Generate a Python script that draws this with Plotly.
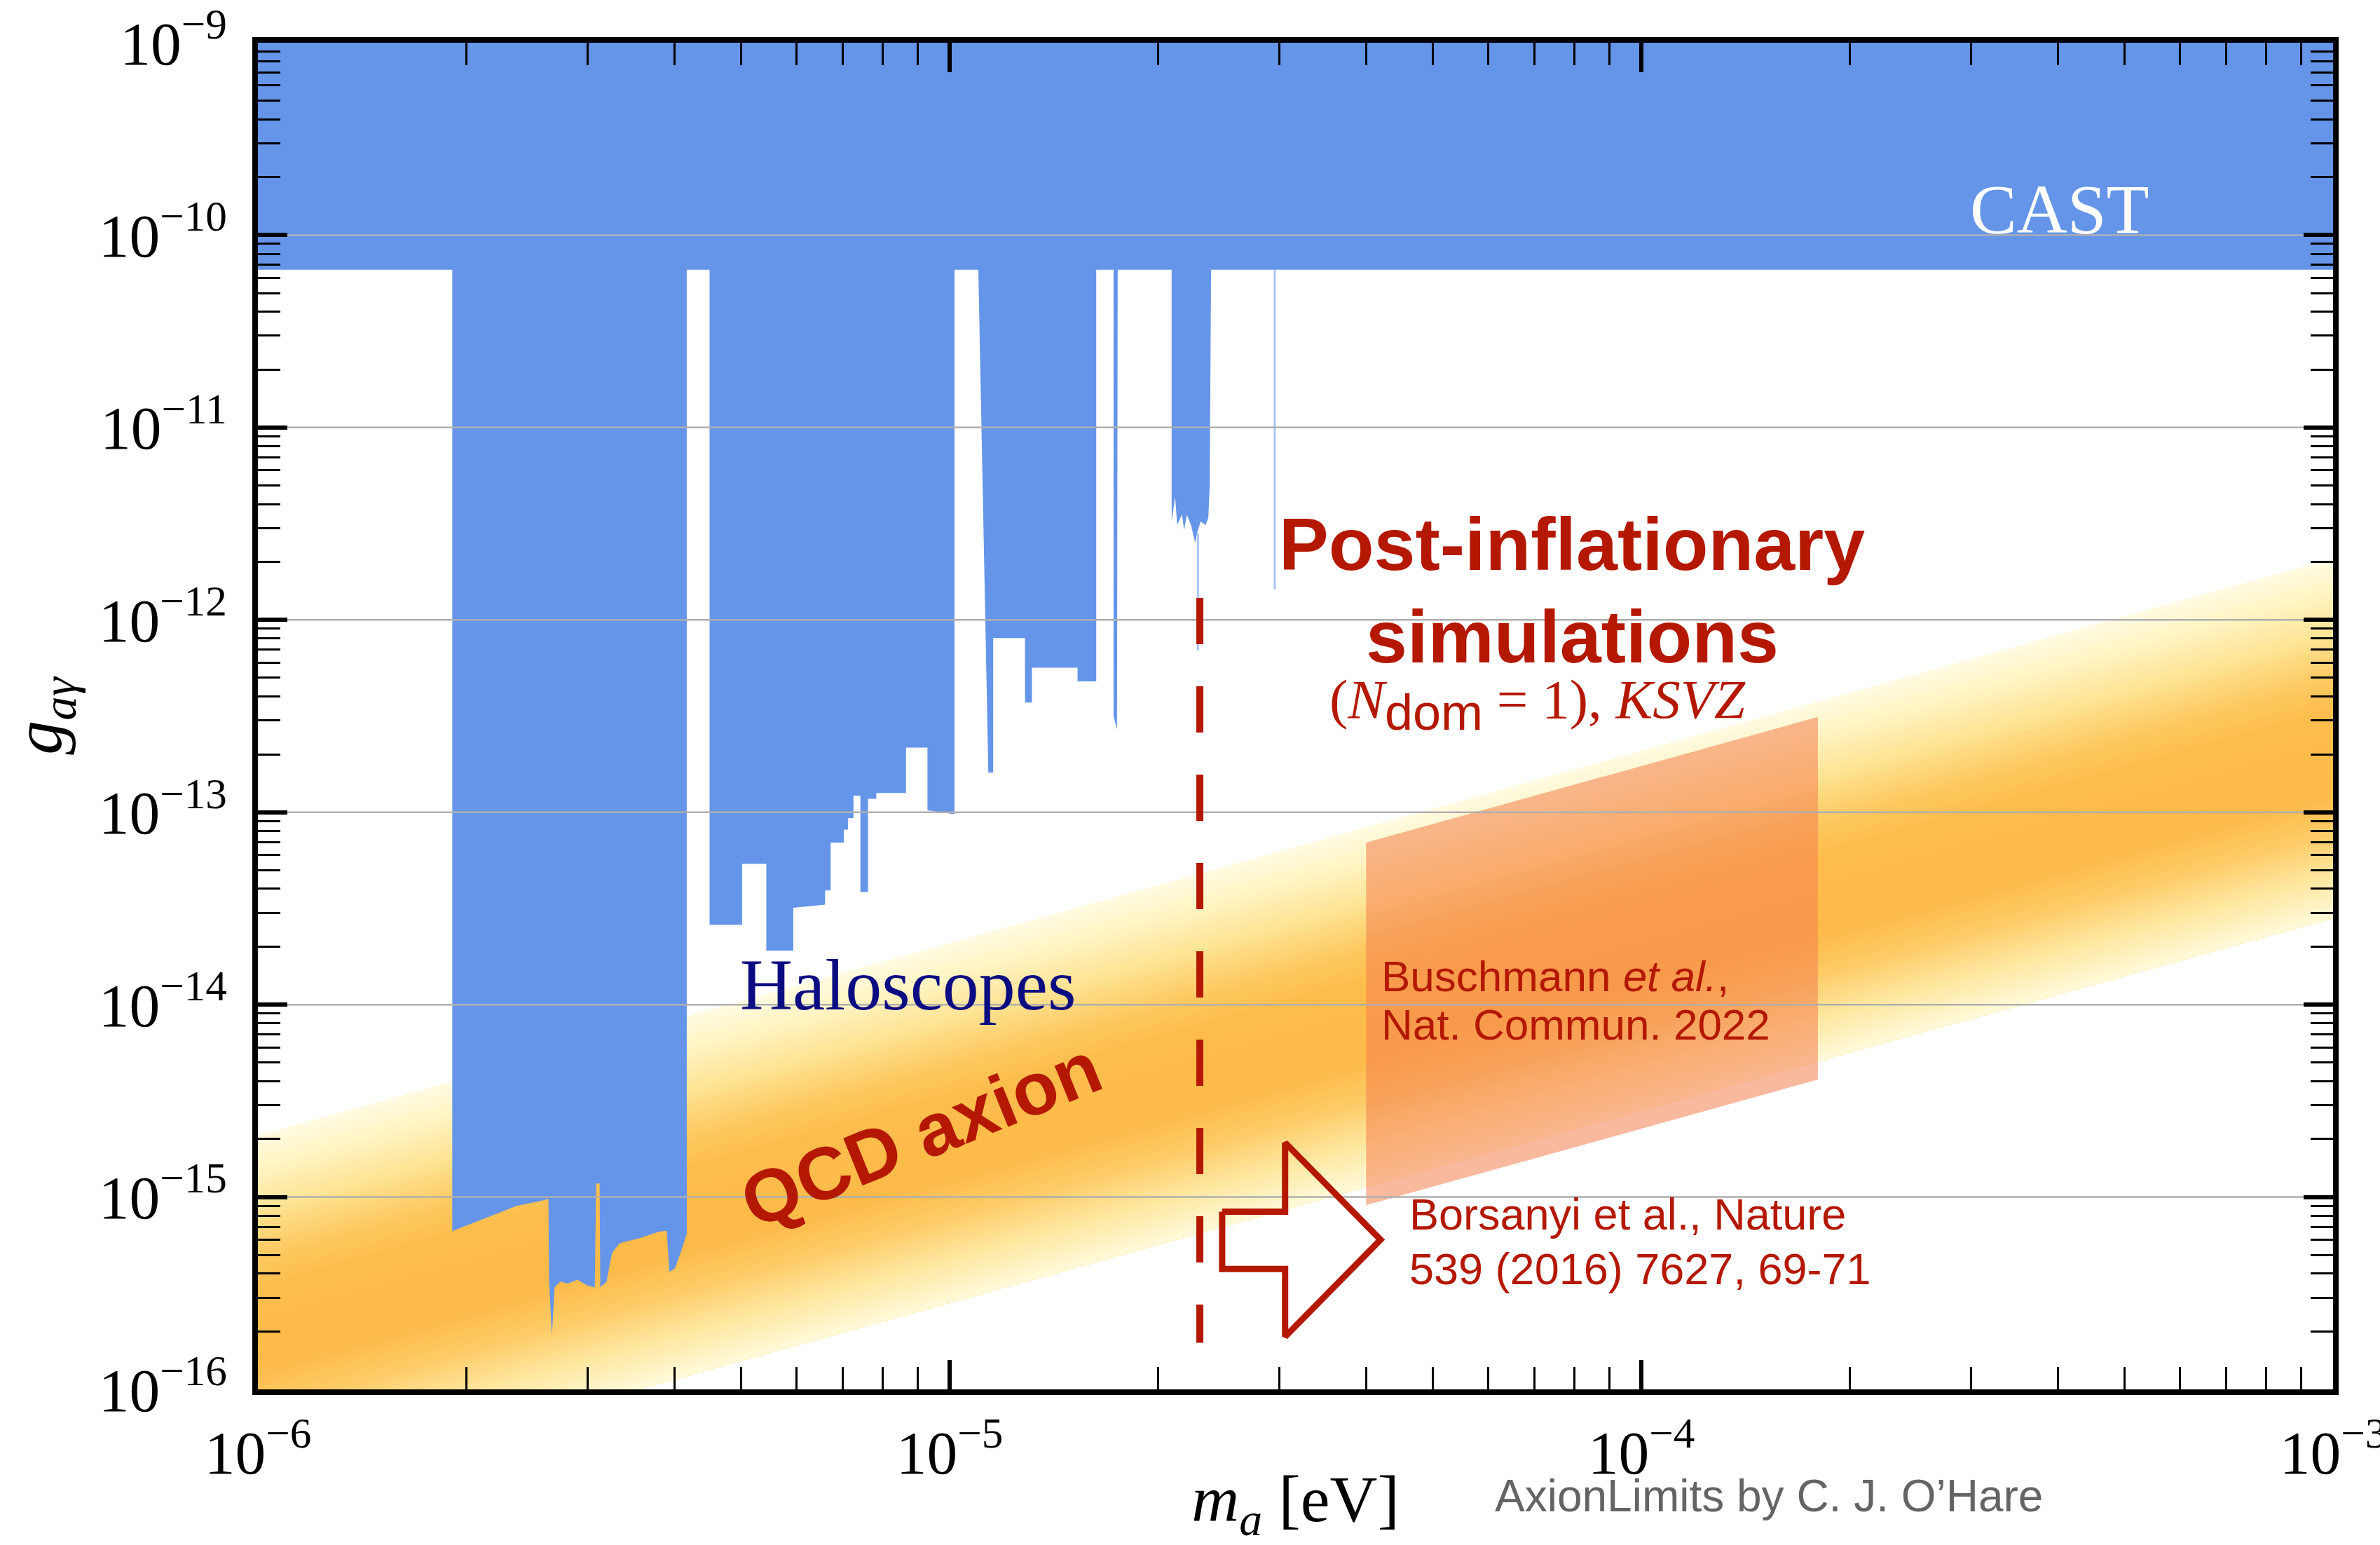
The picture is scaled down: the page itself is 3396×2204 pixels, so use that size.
import numpy as np
import plotly.graph_objects as go

# ---------------- data ----------------
# axis limits
mass_range = [1e-6, 1e-3]       # eV
coupling_range = [1e-16, 1e-9]  # GeV^-1

# CAST helioscope limit (log10 g)
cast_log_g = -10.18

# Haloscope exclusion boundary, traced left -> right (log10 m, log10 g)
halo_log_m = [
    -6.000, -5.719, -5.719, -5.690, -5.662, -5.626, -5.591, -5.580,
    -5.579, -5.575, -5.571, -5.563, -5.552, -5.538, -5.524, -5.513,
    -5.511, -5.506, -5.505, -5.496, -5.488, -5.477, -5.449, -5.420,
    -5.409, -5.405, -5.397, -5.388, -5.380, -5.380,
    -5.347, -5.347, -5.300, -5.300, -5.265, -5.265, -5.226, -5.226,
    -5.180, -5.180, -5.172, -5.172, -5.153, -5.153, -5.147, -5.147,
    -5.139, -5.139, -5.129, -5.129, -5.118, -5.118, -5.106, -5.106,
    -5.063, -5.063, -5.032, -5.032, -4.993, -4.993,
    -4.9585, -4.944, -4.937, -4.937, -4.891, -4.891, -4.881, -4.881,
    -4.815, -4.815, -4.788, -4.788,
    -4.763, -4.763, -4.758, -4.757,
    -4.679, -4.679, -4.674, -4.671, -4.664, -4.661, -4.657, -4.651,
    -4.645, -4.642, -4.637, -4.630, -4.626, -4.624, -4.622,
    -3.000, -3.000, -6.000,
]
halo_log_g = [
    -10.18, -10.18, -15.177, -15.136, -15.095, -15.046, -15.021, -15.010,
    -15.44, -15.72, -15.47, -15.44, -15.45, -15.43, -15.46, -15.47,
    -14.93, -14.93, -15.47, -15.44, -15.29, -15.24, -15.215, -15.18,
    -15.176, -15.39, -15.37, -15.28, -15.19, -10.18,
    -10.18, -13.585, -13.585, -13.268, -13.268, -13.720, -13.720, -13.497,
    -13.480, -13.406, -13.406, -13.158, -13.158, -13.090, -13.090, -13.030,
    -13.030, -12.914, -12.914, -13.415, -13.415, -12.930, -12.930, -12.900,
    -12.900, -12.664, -12.664, -12.990, -13.010, -10.18,
    -10.18, -12.794, -12.794, -12.095, -12.095, -12.430, -12.430, -12.249,
    -12.249, -12.320, -12.320, -10.18,
    -10.18, -12.50, -12.57, -10.18,
    -10.18, -11.489, -11.359, -11.507, -11.452, -11.535, -11.452, -11.507,
    -11.600, -11.544, -11.489, -11.507, -11.470, -11.303, -10.18,
    -10.18, -9.000, -9.000,
]

# faint single-frequency haloscope lines: (log10 m, log10 g_top, log10 g_bottom)
halo_thin_lines = [(-4.641, -11.55, -12.16), (-4.530, -10.18, -11.84)]

# QCD axion band, g = 10**c * m  (upper and lower edge coefficients)
qcd_band_log_coef = [-8.68, -10.55]
# colour profile across the band, from upper to lower edge
band_color_stops = [
    (0.00, (255, 251, 226)),
    (0.10, (255, 243, 192)),
    (0.22, (254, 226, 144)),
    (0.33, (253, 202, 98)),
    (0.43, (253, 189, 76)),
    (0.64, (253, 186, 72)),
    (0.76, (253, 203, 102)),
    (0.88, (254, 231, 160)),
    (1.00, (255, 250, 218)),
]

# Buschmann et al. 2022 post-inflationary prediction
busch_mass = [4.0e-5, 1.8e-4]
busch_log_coef = [-8.76, -10.645]

# dashed line: lower end of post-inflationary mass (eV) and its extent in g
strings_mass = 2.3e-5
strings_log_g = [-11.886, -15.758]

# Borsanyi et al. arrow (log10 m: tail, head base, tip; log10 g: head top,
# shaft top, tip, shaft bottom, head bottom)
arrow_log_m = [-4.606, -4.515, -4.377]
arrow_log_g = [-14.718, -15.076, -15.222, -15.374, -15.726]

grid_decades = [-15, -14, -13, -12, -11, -10]

# ---------------- styles ----------------
BLUE = "rgb(101,149,232)"
RED = "rgb(180,24,0)"
NAVY = "rgb(12,12,130)"
SERIF = "Liberation Serif"
SANS = "Liberation Sans"

fig = go.Figure()


def band_color(t):
    ts = [s[0] for s in band_color_stops]
    rgb = [np.interp(t, ts, [s[1][k] for s in band_color_stops]) for k in range(3)]
    return "rgb(%d,%d,%d)" % tuple(int(round(v)) for v in rgb)


# QCD axion band as stacked strips (each strip runs to the lower edge)
m0, m1 = mass_range
top_c, bot_c = qcd_band_log_coef
n_strips = 70
for i in range(n_strips):
    t = i / n_strips
    c = top_c + t * (bot_c - top_c)
    fig.add_trace(go.Scatter(
        x=[m0, m1, m1, m0, m0],
        y=[10**c * m0, 10**c * m1, 10**bot_c * m1, 10**bot_c * m0, 10**c * m0],
        mode="lines", line=dict(width=0), fill="toself",
        fillcolor=band_color(t + 0.5 / n_strips), hoverinfo="skip",
    ))

# Buschmann et al. region
b0, b1 = busch_mass
bt, bb = busch_log_coef
fig.add_trace(go.Scatter(
    x=[b0, b1, b1, b0, b0],
    y=[10**bt * b0, 10**bt * b1, 10**bb * b1, 10**bb * b0, 10**bt * b0],
    mode="lines", line=dict(width=0), fill="toself",
    fillcolor="rgba(244,128,78,0.55)", hoverinfo="skip",
))

# haloscope + CAST exclusion
fig.add_trace(go.Scatter(
    x=np.power(10.0, halo_log_m), y=np.power(10.0, halo_log_g),
    mode="lines", line=dict(width=0), fill="toself", fillcolor=BLUE,
    hoverinfo="skip",
))
for lm, g_top, g_bot in halo_thin_lines:
    fig.add_trace(go.Scatter(
        x=[10**lm, 10**lm], y=[10**g_top, 10**g_bot], mode="lines",
        line=dict(color="rgba(101,149,232,0.55)", width=3), hoverinfo="skip",
    ))

# horizontal decade grid drawn over the filled regions
gx, gy = [], []
for d in grid_decades:
    gx += [m0, m1, None]
    gy += [10.0**d, 10.0**d, None]
fig.add_trace(go.Scatter(x=gx, y=gy, mode="lines",
                         line=dict(color="rgb(175,175,175)", width=2.5),
                         hoverinfo="skip"))

# dashed line for the post-inflationary scenario
fig.add_trace(go.Scatter(
    x=[strings_mass, strings_mass],
    y=[10**strings_log_g[0], 10**strings_log_g[1]],
    mode="lines", line=dict(color=RED, width=10, dash="66px,60px"),
    hoverinfo="skip",
))

# outlined arrow pointing to the lattice result
am_tail, am_base, am_tip = arrow_log_m
ag_htop, ag_stop, ag_tip, ag_sbot, ag_hbot = arrow_log_g
ax_pts = [am_tail, am_base, am_base, am_tip, am_base, am_base, am_tail, am_tail]
ay_pts = [ag_stop, ag_stop, ag_htop, ag_tip, ag_hbot, ag_sbot, ag_sbot, ag_stop]
fig.add_trace(go.Scatter(
    x=np.power(10.0, ax_pts), y=np.power(10.0, ay_pts), mode="lines",
    line=dict(color=RED, width=9), hoverinfo="skip",
))

# ---------------- text ----------------
ann = []


def add_text(text, x, y, size, color, family, xanchor="center", **kw):
    ann.append(dict(text=text, x=x, y=y, xref="x", yref="y", showarrow=False,
                    xanchor=xanchor, yanchor="middle",
                    font=dict(size=size, color=color, family=family), **kw))


add_text("CAST", -3.395, -9.867, 100, "white", SERIF)
add_text("Haloscopes", -5.060, -13.894, 104, NAVY, SERIF)
add_text("<b>QCD axion</b>", -5.042, -14.674, 106, RED, SANS, textangle=-22)
add_text("<b>Post-inflationary</b>", -4.100, -11.604, 106, RED, SANS)
add_text("<b>simulations</b>", -4.100, -12.085, 106, RED, SANS)
add_text("(<i>N</i><sub><span style='font-family:Liberation Sans;font-size:72px'>dom</span></sub> = 1), <i>KSVZ</i>",
         -4.150, -12.44, 79, RED, SERIF)
add_text("Buschmann <i>et al.</i>,", -4.378, -13.851, 62, RED, SANS, xanchor="left")
add_text("Nat. Commun. 2022", -4.378, -14.105, 62, RED, SANS, xanchor="left")
add_text("Borsanyi et al., Nature", -4.3376, -15.09, 63, RED, SANS, xanchor="left")
add_text("539 (2016) 7627, 69-71", -4.3376, -15.374, 63, RED, SANS, xanchor="left")

ann.append(dict(text="AxionLimits by C. J. O\u2019Hare", x=0.5954, y=-0.0790,
                xref="paper", yref="paper", showarrow=False, xanchor="left",
                yanchor="middle",
                font=dict(size=64, color="rgb(100,100,100)", family=SANS)))

axis_common = dict(
    type="log", showgrid=False, zeroline=False,
    showline=True, linecolor="black", linewidth=8, mirror="allticks",
    ticks="inside", ticklen=42, tickwidth=6, tickcolor="black",
    dtick=1, exponentformat="power",
    tickfont=dict(family=SERIF, size=70, color="black"),
    minor=dict(ticks="inside", ticklen=32, tickwidth=3, tickcolor="black",
               dtick="D1", showgrid=False),
    automargin=False, ticklabeloverflow="allow",
)

fig.update_layout(
    width=3396, height=2204,
    margin=dict(l=368, r=67, t=61, b=222, autoexpand=False),
    paper_bgcolor="white", plot_bgcolor="white",
    showlegend=False,
    xaxis=dict(axis_common, range=[np.log10(mass_range[0]), np.log10(mass_range[1])],
               ticklabelstandoff=10,
               title=dict(text="<i>m</i><sub><i>a</i></sub> [eV]",
                          font=dict(family=SERIF, size=94, color="black"),
                          standoff=40)),
    yaxis=dict(axis_common, range=[np.log10(coupling_range[0]), np.log10(coupling_range[1])],
               ticklabelstandoff=22,
               title=dict(text="<i>g</i><sub><i>a\u03b3</i></sub>",
                          font=dict(family=SERIF, size=98, color="black"),
                          standoff=34)),
    annotations=ann,
)

fig.write_html("out.html")
